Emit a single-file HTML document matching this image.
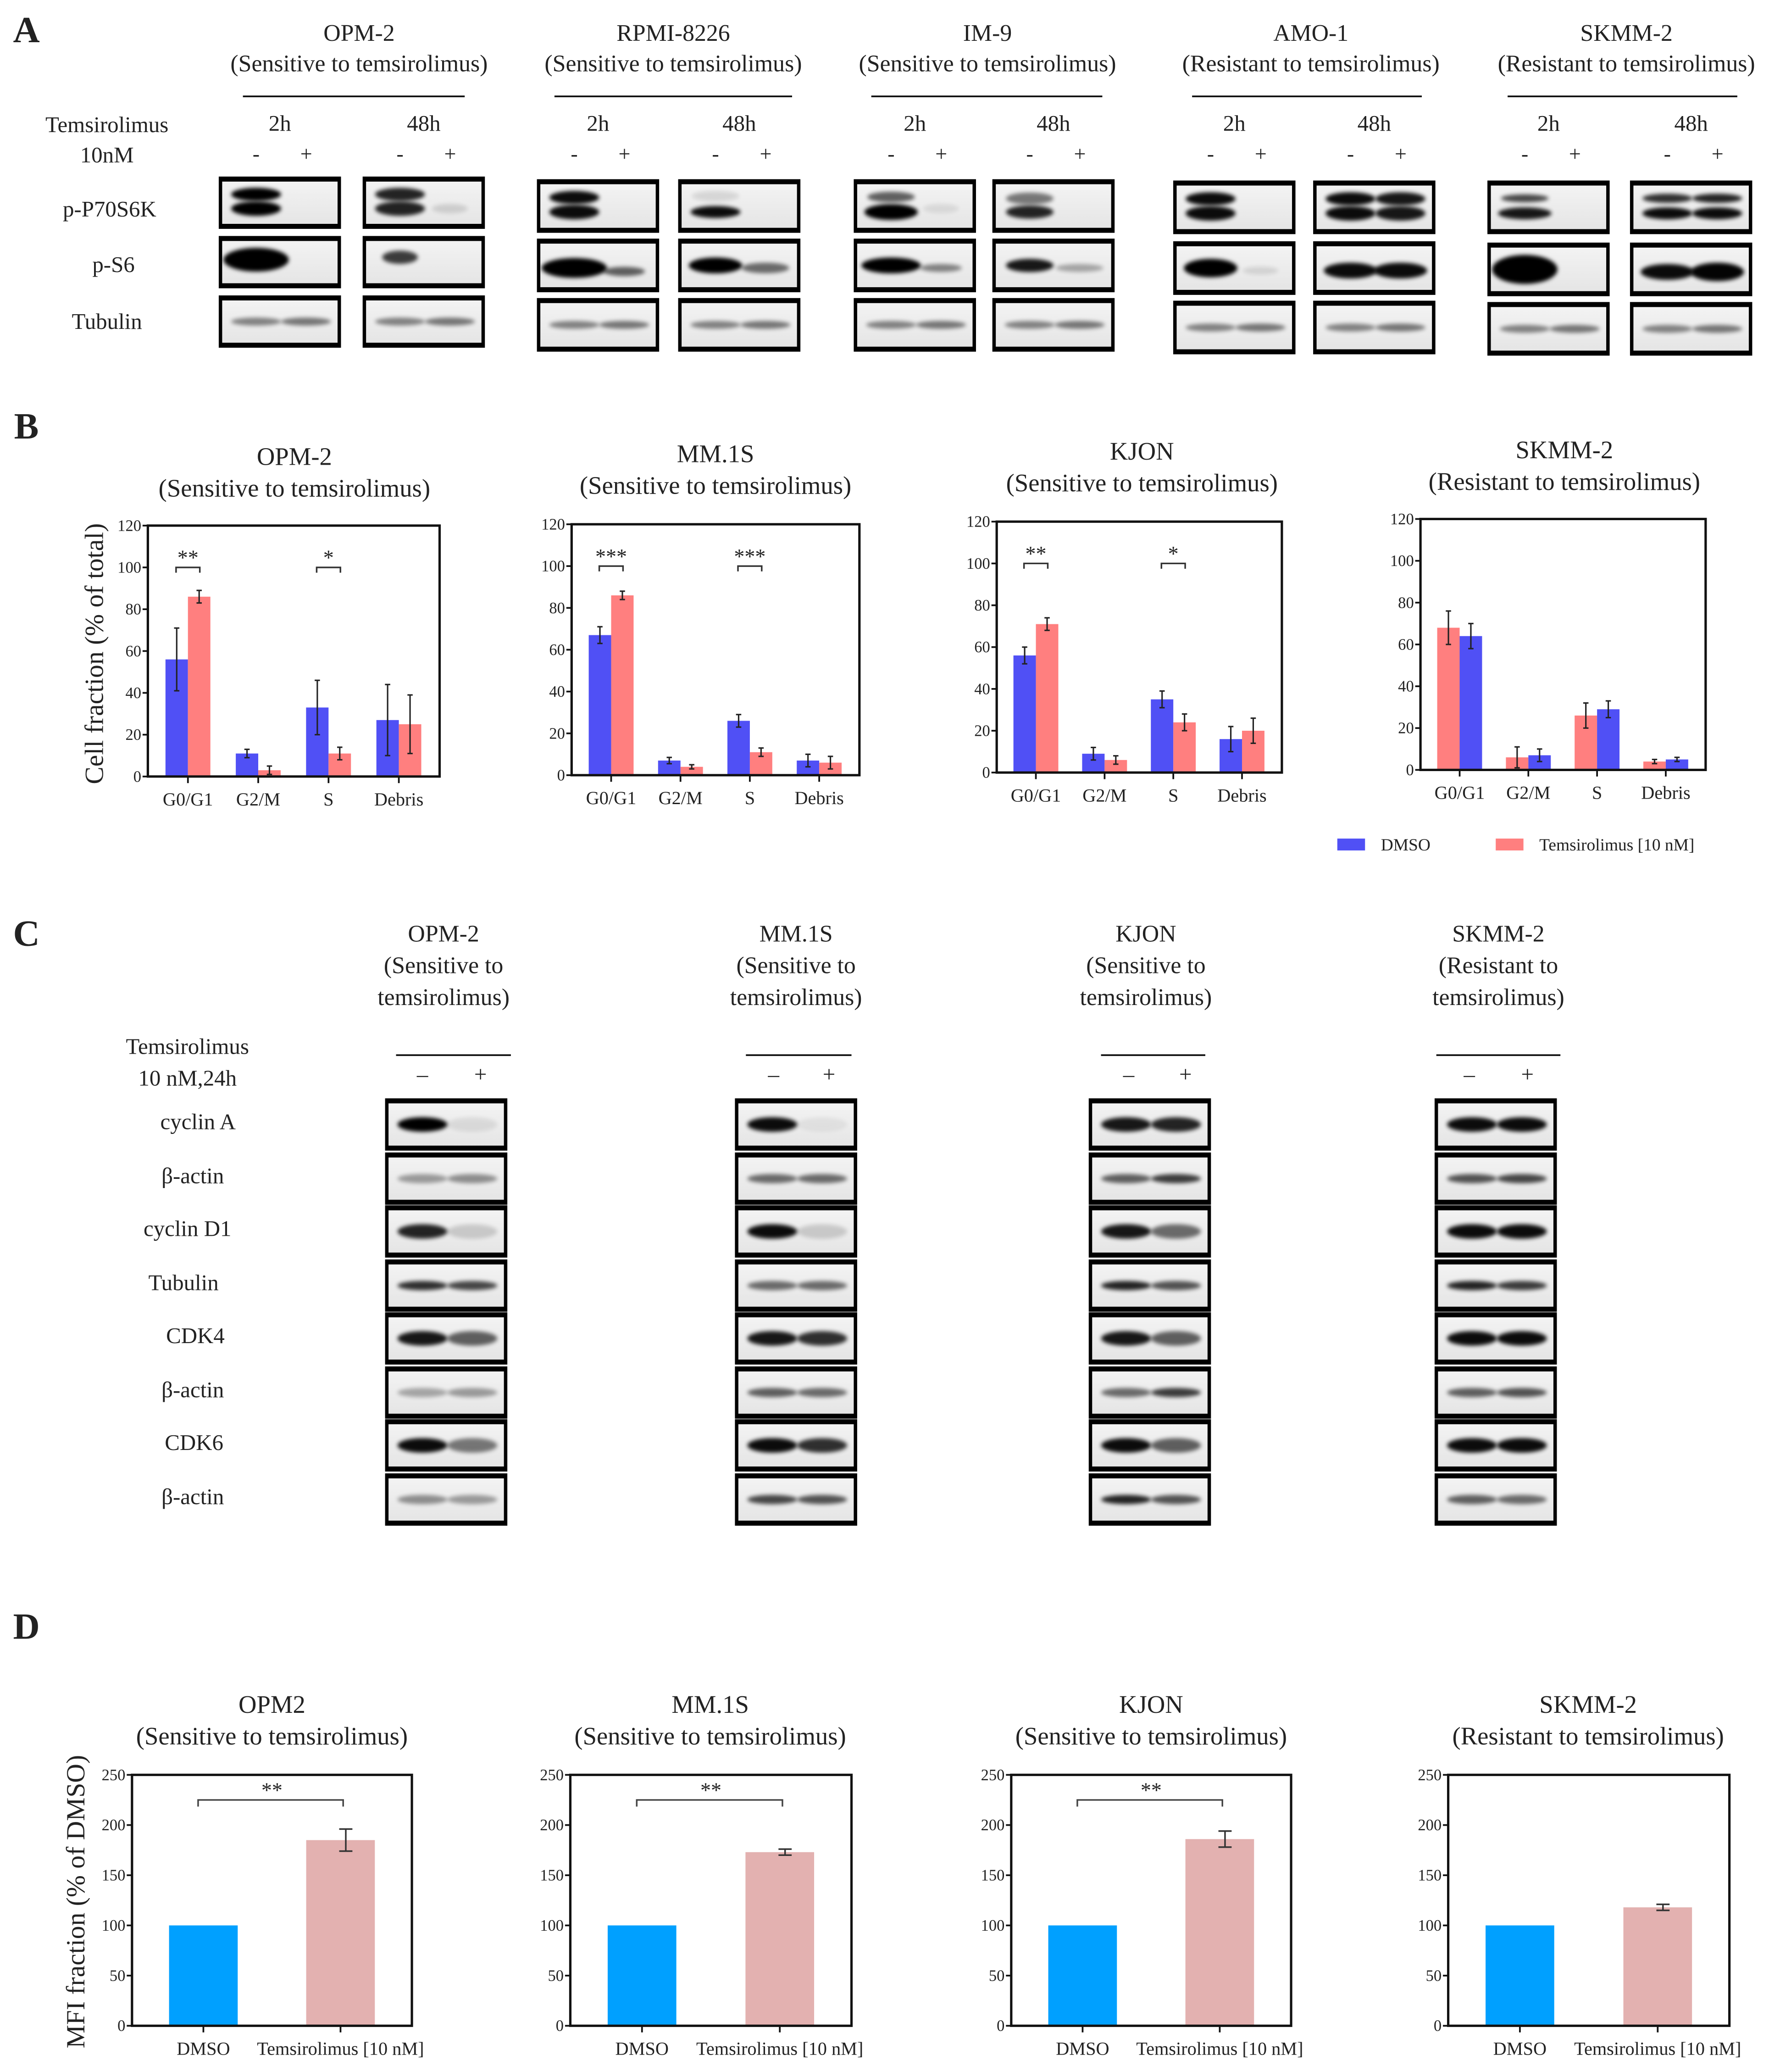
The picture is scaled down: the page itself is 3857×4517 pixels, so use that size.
<!DOCTYPE html>
<html><head><meta charset="utf-8"><style>
html,body{margin:0;padding:0;background:#fff}
svg{display:block}
text{font-family:"Liberation Serif",serif;fill:#222}
</style></head><body>
<svg id="fig" xmlns="http://www.w3.org/2000/svg" width="3857" height="4517" viewBox="0 0 1340 1569" preserveAspectRatio="none">
<defs>
<filter id="blur" x="-50%" y="-80%" width="200%" height="260%"><feGaussianBlur stdDeviation="1.6"/></filter>
<linearGradient id="bg" x1="0" y1="0" x2="0" y2="1"><stop offset="0" stop-color="#f4f4f4"/><stop offset="1" stop-color="#e4e4e4"/></linearGradient>
</defs>
<g id="root"></g>
</svg>
<script>
// ---------- Panel B data ----------
const bCategories = ["G0/G1","G2/M","S","Debris"];
const bTitles = [["OPM-2","(Sensitive to temsirolimus)"],["MM.1S","(Sensitive to temsirolimus)"],["KJON","(Sensitive to temsirolimus)"],["SKMM-2","(Resistant to temsirolimus)"]];
const bDmso = [[56,11,33,27],[67,7,26,7],[56,9,35,16],[64,7,29,5]];
const bDmsoErr = [[15,2,13,17],[4,1.5,3,3],[4,3,4,6],[6,3,4,1]];
const bTems = [[86,3,11,25],[86,4,11,6],[71,6,24,20],[68,6,26,4]];
const bTemsErr = [[3,2,3,14],[2,1,2,3],[3,2,4,6],[8,5,6,1]];
const bSig = [["**","","*",""],["***","","***",""],["**","","*",""],["","","",""]];
const bYTicks = [0,20,40,60,80,100,120];
// ---------- Panel D data ----------
const dTitles = [["OPM2","(Sensitive to temsirolimus)"],["MM.1S","(Sensitive to temsirolimus)"],["KJON","(Sensitive to temsirolimus)"],["SKMM-2","(Resistant to temsirolimus)"]];
const dCategories = ["DMSO","Temsirolimus [10 nM]"];
const dDmso = [100,100,100,100];
const dTems = [185,173,186,118];
const dTemsErr = [11,3,8,3];
const dSig = ["**","**","**",""];
const dYTicks = [0,50,100,150,200,250];

const NS="http://www.w3.org/2000/svg";
const root=document.getElementById('root');
function el(tag,attrs,parent){const e=document.createElementNS(NS,tag);for(const k in attrs)e.setAttribute(k,attrs[k]);(parent||root).appendChild(e);return e;}
function txt(x,y,s,size,anchor,name,parent,weight){const e=el('text',{x:x,y:y,'font-size':size,'text-anchor':anchor||'middle'},parent);if(weight)e.setAttribute('font-weight',weight);e.textContent=s;


return e;}
function line(x1,y1,x2,y2,w,c,parent){return el('line',{x1:x1,y1:y1,x2:x2,y2:y2,stroke:c||'#111','stroke-width':w||1},parent);}

// ---------- panel labels ----------
[["A",20,32],["B",20,332],["C",20,716],["D",20,1241]].forEach(p=>{txt(p[1],p[2],p[0],28,'middle','panel-label-'+p[0].toLowerCase(),null,'bold');});

// ---------- blots ----------
function blotBox(x,y,w,h,bands,name){
  const g=el('g',{});
  
  
  el('rect',{x:x,y:y,width:w,height:h,fill:'url(#bg)'},g);
  bands.forEach(b=>{
    // b: [lane(0/1), yfrac, intensity(0-1), widthfrac, heightpx]
    const cx=x+w*(b[0]===0?0.3:0.72), cy=y+h*b[1];
    el('ellipse',{cx:cx,cy:cy,rx:w*b[3]/2,ry:b[4]/2,fill:'#000',opacity:b[2],filter:'url(#blur)'},g);
  });
  el('rect',{x:x,y:y,width:w,height:h,fill:'none',stroke:'#000','stroke-width':2.6},g);
  line(x,y+1.5,x+w,y+1.5,2,'#000',g);line(x,y+h-1.5,x+w,y+h-1.5,2,'#000',g);
}
// Panel A layout
const aLines=[
 {name:"OPM-2",sub:"(Sensitive to temsirolimus)",cx:272,ul:[184,352],bx:[167,276],by:[135,180,225],h:37},
 {name:"RPMI-8226",sub:"(Sensitive to temsirolimus)",cx:510,ul:[420,600],bx:[408,515],by:[137,182,227],h:38},
 {name:"IM-9",sub:"(Sensitive to temsirolimus)",cx:748,ul:[660,835],bx:[648,753],by:[137,182,227],h:38},
 {name:"AMO-1",sub:"(Resistant to temsirolimus)",cx:993,ul:[903,1077],bx:[890,996],by:[138,184,229],h:38},
 {name:"SKMM-2",sub:"(Resistant to temsirolimus)",cx:1232,ul:[1142,1316],bx:[1128,1236],by:[138,185,230],h:38}
];
const dbl=(l,i)=>[[l,0.33,i,0.42,10],[l,0.62,i,0.42,11]];
const aBands=[
 [[dbl(0,1)],[dbl(0,0.85).concat([[1,0.62,0.12,0.3,7]])]],
 [[dbl(0,0.95)],[[[0,0.62,0.95,0.42,9],[0,0.3,0.1,0.4,8]]]],
 [[[[0,0.62,1,0.45,12],[0,0.32,0.6,0.4,8],[1,0.55,0.08,0.3,7]]],[[[0,0.35,0.5,0.4,9],[0,0.62,0.85,0.4,10]]]],
 [[dbl(0,0.95)],[dbl(0,0.95).concat(dbl(1,0.9))]],
 [[[[0,0.32,0.7,0.4,6],[0,0.62,0.9,0.45,9]]],[[[0,0.32,0.8,0.42,7],[0,0.62,0.95,0.42,9],[1,0.32,0.85,0.42,7],[1,0.62,0.95,0.42,9]]]]
];
const aS6=[
 [[[0,0.45,1,0.55,18]],[[0,0.4,0.75,0.3,10]]],
 [[[0,0.55,1,0.55,15],[1,0.62,0.6,0.35,7]],[[0,0.5,1,0.45,12],[1,0.55,0.55,0.4,8]]],
 [[[0,0.5,1,0.5,12],[1,0.55,0.45,0.35,6]],[[0,0.5,0.9,0.4,10],[1,0.55,0.3,0.4,6]]],
 [[[0,0.5,1,0.45,14],[1,0.55,0.1,0.3,6]],[[0,0.55,0.95,0.45,12],[1,0.55,0.95,0.45,12]]],
 [[[0,0.5,1,0.55,22]],[[0,0.55,0.95,0.45,12],[1,0.55,0.98,0.45,14]]]
];
aLines.forEach((c,ci)=>{
  txt(c.cx,31,c.name,18,'middle','cell-line-name-a-'+ci);
  txt(c.cx,54,c.sub,18,'middle','cell-line-status-a-'+ci);
  line(c.ul[0],73,c.ul[1],73,1.3);
  c.bx.forEach((bx,bi)=>{
    txt(bx+45,99,bi===0?"2h":"48h",17,'middle','timepoint-label');
    txt(bx+27,122,"-",16,'middle','minus-label');
    txt(bx+65,122,"+",16,'middle','plus-label');
    blotBox(bx,c.by[0],90,c.h,aBands[ci][bi][0],'blot-p70s6k');
    blotBox(bx,c.by[1],90,c.h,aS6[ci][bi],'blot-ps6');
    blotBox(bx,c.by[2],90,c.h,[[0,0.5,0.45,0.42,6],[1,0.5,0.5,0.42,6]],'blot-tubulin');
  });
});
txt(81,100,"Temsirolimus",17,'middle','treatment-label-a');
txt(81,123,"10nM",17,'middle','dose-label-a');
txt(83,164,"p-P70S6K",17,'middle','row-label-p70s6k');
txt(86,206,"p-S6",17,'middle','row-label-ps6');
txt(81,249,"Tubulin",17,'middle','row-label-tubulin');

// ---------- Panel B charts ----------
const bLayout=[{l:112,r:333,t:398,b:588,tx:223,ty:352},{l:433,r:651,t:397,b:587,tx:542,ty:350},{l:755,r:971,t:395,b:585,tx:865,ty:348},{l:1076,r:1292,t:393,b:583,tx:1185,ty:347}];
bLayout.forEach((L,ci)=>{
  const g=el('g',{});
  
  
  const yMax=120, y=v=>L.b-v/yMax*(L.b-L.t);
  const step=(L.r-L.l)/4.15, xc=i=>L.l+step*0.57+i*step;
  const bw=17;
  txt(L.tx,L.ty,bTitles[ci][0],19,'middle','chart-title',g);
  txt(L.tx,L.ty+24,bTitles[ci][1],19,'middle','chart-subtitle',g);
  bYTicks.forEach(v=>{line(L.l-4,y(v),L.l,y(v),1.3,'#111',g);txt(L.l-5,y(v)+4,String(v),12,'end','y-tick-label',g);});
  const redFirst=(ci===3);
  bCategories.forEach((c,i)=>{
    const x=xc(i);
    const series=[[bDmso[ci][i],bDmsoErr[ci][i],'#5050f5','dmso'],[bTems[ci][i],bTemsErr[ci][i],'#ff7f7f','temsirolimus']];
    if(redFirst)series.reverse();
    series.forEach((s,k)=>{
      const bx=k===0?x-bw:x;
      const r=el('rect',{x:bx,y:y(s[0]),width:bw,height:L.b-y(s[0]),fill:s[2]},g);
      
      
      const ex=bx+bw/2;
      line(ex,y(s[0]-s[1]),ex,y(s[0]+s[1]),1.1,'#222',g);
      line(ex-2,y(s[0]+s[1]),ex+2,y(s[0]+s[1]),1.1,'#222',g);
      line(ex-2,y(s[0]-s[1]),ex+2,y(s[0]-s[1]),1.1,'#222',g);
    });
    line(x,L.b,x,L.b+5,1.3,'#111',g);
    txt(x,L.b+22,c,14,'middle','x-tick-label',g);
    if(bSig[ci][i]){
      const yb=y(100);
      el('path',{d:`M${x-9},${yb+4} V${yb} H${x+9} V${yb+4}`,fill:'none',stroke:'#333','stroke-width':1.2},g);
      txt(x,yb-2,bSig[ci][i],16,'middle','significance-stars',g);
    }
  });
  el('rect',{x:L.l,y:L.t,width:L.r-L.l,height:L.b-L.t,fill:'none',stroke:'#111','stroke-width':1.8},g);
});
const yt=txt(0,0,"Cell fraction (% of total)",20,'middle','y-axis-title-b');
yt.setAttribute('transform','translate(78,495) rotate(-90)');
el('rect',{x:1013,y:635,width:21,height:9,fill:'#5050f5'});
txt(1046,644,"DMSO",13,'start','legend-dmso');
el('rect',{x:1133,y:635,width:21,height:9,fill:'#ff7f7f'});
txt(1166,644,"Temsirolimus [10 nM]",13,'start','legend-temsirolimus');

// ---------- Panel C ----------
const cLines=[{h:["OPM-2","(Sensitive to","temsirolimus)"],cx:336,ul:[300,387],pm:[320,364],bx:293},
 {h:["MM.1S","(Sensitive to","temsirolimus)"],cx:603,ul:[565,645],pm:[586,628],bx:558},
 {h:["KJON","(Sensitive to","temsirolimus)"],cx:868,ul:[834,913],pm:[855,898],bx:826},
 {h:["SKMM-2","(Resistant to","temsirolimus)"],cx:1135,ul:[1088,1182],pm:[1113,1157],bx:1088}];
const cRowsY=[833,874,914,955,995,1036,1076,1117];
const cRowLabels=[["cyclin A",150],["β-actin",146],["cyclin D1",142],["Tubulin",139],["CDK4",148],["β-actin",146],["CDK6",147],["β-actin",146]];
// intensities [lane1,lane2] per row per cell line
const cInt=[
 [[1,0.08],[0.35,0.4],[0.85,0.15],[0.8,0.7],[0.9,0.6],[0.3,0.35],[0.95,0.5],[0.4,0.35]],
 [[0.95,0.05],[0.55,0.55],[0.95,0.15],[0.55,0.55],[0.9,0.8],[0.6,0.55],[0.95,0.8],[0.7,0.65]],
 [[0.9,0.85],[0.6,0.75],[0.9,0.55],[0.85,0.65],[0.9,0.6],[0.55,0.75],[0.95,0.6],[0.85,0.65]],
 [[0.95,0.95],[0.65,0.7],[0.95,0.95],[0.85,0.75],[0.95,0.95],[0.6,0.65],[0.95,0.95],[0.6,0.55]]
];
cLines.forEach((c,ci)=>{
  c.h.forEach((s,k)=>txt(c.cx,713+k*24,s,18,'middle','cell-line-header-c',null));
  line(c.ul[0],799,c.ul[1],799,1.3);
  txt(c.pm[0],819,"–",17,'middle','minus-label');
  txt(c.pm[1],819,"+",17,'middle','plus-label');
  cRowsY.forEach((ry,ri)=>{
    const it=cInt[ci][ri], thick=(ri%2===0)?11:7;
    blotBox(c.bx,ry,90,37,[[0,0.5,it[0],0.42,thick],[1,0.5,it[1],0.42,thick]],'blot-'+cRowLabels[ri][0].replace(/[^a-zA-Z0-9]/g,'').toLowerCase());
  });
});
txt(142,798,"Temsirolimus",17,'middle','treatment-label-c');
txt(142,822,"10 nM,24h",17,'middle','dose-label-c');
cRowLabels.forEach((r,i)=>txt(r[1],cRowsY[i]+22,r[0],17,'middle','row-label-c'));

// ---------- Panel D ----------
const dLayout=[{l:100,r:312,tx:206},{l:432,r:645,tx:538},{l:766,r:978,tx:872},{l:1097,r:1310,tx:1203}];
dLayout.forEach((L,ci)=>{
  const g=el('g',{});
  
  
  const T=1344,B=1534,y=v=>B-v/250*(B-T);
  const w=L.r-L.l, xc=i=>L.l+w*(0.255+i*0.49), bw=52;
  txt(L.tx,1297,dTitles[ci][0],19,'middle','chart-title',g);
  txt(L.tx,1321,dTitles[ci][1],19,'middle','chart-subtitle',g);
  dYTicks.forEach(v=>{line(L.l-4,y(v),L.l,y(v),1.3,'#111',g);txt(L.l-5,y(v)+4,String(v),12,'end','y-tick-label',g);});
  const vals=[dDmso[ci],dTems[ci]], cols=['#00a0ff','#e3b1b0'];
  vals.forEach((v,i)=>{
    const r=el('rect',{x:xc(i)-bw/2,y:y(v),width:bw,height:B-y(v),fill:cols[i]},g);
    
    
    line(xc(i),B,xc(i),B+5,1.3,'#111',g);
    txt(xc(i),B+22,dCategories[i],14,'middle','x-tick-label',g);
  });
  const ex=xc(1)+4,e=dTemsErr[ci],v=dTems[ci];
  line(ex,y(v-e),ex,y(v+e),1.2,'#333',g);
  line(ex-5,y(v+e),ex+5,y(v+e),1.2,'#333',g);
  line(ex-5,y(v-e),ex+5,y(v-e),1.2,'#333',g);
  if(dSig[ci]){
    const yb=y(225);
    el('path',{d:`M${xc(0)-4},${yb+5} V${yb} H${xc(1)+2} V${yb+5}`,fill:'none',stroke:'#444','stroke-width':1.2},g);
    txt((xc(0)+xc(1))/2,yb-2,dSig[ci],16,'middle','significance-stars',g);
  }
  el('rect',{x:L.l,y:T,width:w,height:B-T,fill:'none',stroke:'#111','stroke-width':1.8},g);
});
const yd=txt(0,0,"MFI fraction (% of DMSO)",20,'middle','y-axis-title-d');
yd.setAttribute('transform','translate(64,1440) rotate(-90)');
</script>
</body></html>
